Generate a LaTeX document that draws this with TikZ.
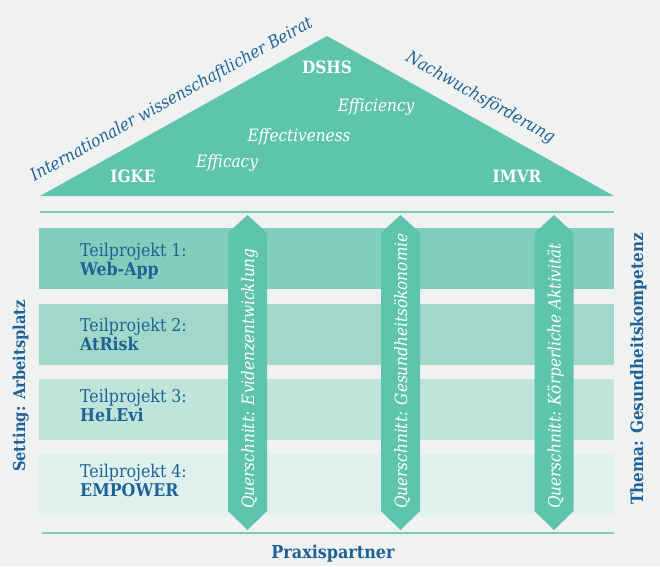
\documentclass[tikz,border=0pt]{standalone}
\usepackage{fontspec}
\setmainfont{DejaVu Serif Condensed}
\definecolor{bg}{HTML}{F0F2F1}
\definecolor{teal}{HTML}{5EC4AE}
\definecolor{rowA}{HTML}{82CDBB}
\definecolor{rowB}{HTML}{A1D8C9}
\definecolor{rowC}{HTML}{BFE4D9}
\definecolor{rowD}{HTML}{DFF1EC}
\definecolor{rule}{HTML}{7ACCB9}
\definecolor{txtblue}{HTML}{1F6297}
\newcommand\myfs[1]{\fontsize{#1}{#1}\selectfont}
\tikzset{
  lbl/.style={inner sep=0pt, font=\myfs{17}},
  roof/.style={lbl, text=white, font=\myfs{17}\bfseries},
  roofit/.style={lbl, text=white, font=\myfs{17}\itshape},
  side/.style={lbl, text=txtblue, font=\myfs{17}\itshape},
  bluebold/.style={lbl, text=txtblue, font=\myfs{17}\bfseries},
  tp/.style={lbl, text=txtblue, anchor=base west, font=\myfs{17.6}},
  tpb/.style={lbl, text=txtblue, anchor=base west, font=\myfs{17.6}\bfseries},
  pillartext/.style={lbl, text=white, rotate=90, anchor=base west, font=\myfs{17}\itshape},
  hline/.style={draw=rule, line width=1.5pt}
}
\begin{document}
\begin{tikzpicture}[x=1pt,y=-1pt]
\useasboundingbox (0,0) rectangle (660,566);
\fill[bg] (0,0) rectangle (660,566);
% roof
\fill[teal] (40,196) -- (327,36) -- (614,196) -- cycle;
\node[roof, anchor=base] (dshs) at (327,73) {DSHS};
\node[roofit, anchor=base] (effy) at (376,111.5) {Efficiency};
\node[roofit, anchor=base] (effv) at (299,141.5) {Effectiveness};
\node[roofit, anchor=base] (effc) at (227,167) {Efficacy};
\node[roof, anchor=base] (igke) at (133,182) {IGKE};
\node[roof, anchor=base] (imvr) at (517,182) {IMVR};
\node[side, anchor=base, rotate=29.1] (beirat) at (174,104) {Internationaler wissenschaftlicher Beirat};
\node[side, anchor=base, rotate=-29.4] (nach) at (478,102) {Nachwuchsförderung};
% rules
\coordinate (tl) at (40,212); \coordinate (tr) at (614,212);
\coordinate (bl) at (42,533); \coordinate (br) at (614,533);
\draw[hline] (tl) -- (tr);
\draw[hline] (bl) -- (br);
% rows
\fill[rowA] (39,228) rectangle (614,289);
\fill[rowB] (39,304) rectangle (614,365);
\fill[rowC] (39,379) rectangle (614,440);
\fill[rowD] (39,454) rectangle (614,515);
\node[tp] (t1) at (80,256) {Teilprojekt 1:};
\node[tpb] (n1) at (80,275) {Web-App};
\node[tp] (t2) at (80,331) {Teilprojekt 2:};
\node[tpb] (n2) at (80,350) {AtRisk};
\node[tp] (t3) at (80,402) {Teilprojekt 3:};
\node[tpb] (n3) at (80,421) {HeLEvi};
\node[tp] (t4) at (80,477.5) {Teilprojekt 4:};
\node[tpb] (n4) at (80,496.5) {EMPOWER};
% pillars
\foreach \cx/\nm/\tx in {247.5/p1/{Querschnitt: Evidenzentwicklung},400.5/p2/{Querschnitt: Gesundheitsökonomie},554/p3/{Querschnitt: Körperliche Aktivität}}{
  \fill[teal] (\cx,215) -- (\cx+19.5,233) -- (\cx+19.5,511) -- (\cx,530) -- (\cx-19.5,511) -- (\cx-19.5,233) -- cycle;
  \node[pillartext] (\nm) at (\cx+6.5,509) {\tx};
}
% sides
\node[bluebold, rotate=90, anchor=base, font=\myfs{16.3}\bfseries] (setting) at (25,386) {Setting: Arbeitsplatz};
\node[bluebold, rotate=90, anchor=base] (thema) at (643,369) {Thema: Gesundheitskompetenz};
\node[bluebold, anchor=base, font=\myfs{17.8}\bfseries] (praxis) at (333,558) {Praxispartner};
\end{tikzpicture}
\end{document}
